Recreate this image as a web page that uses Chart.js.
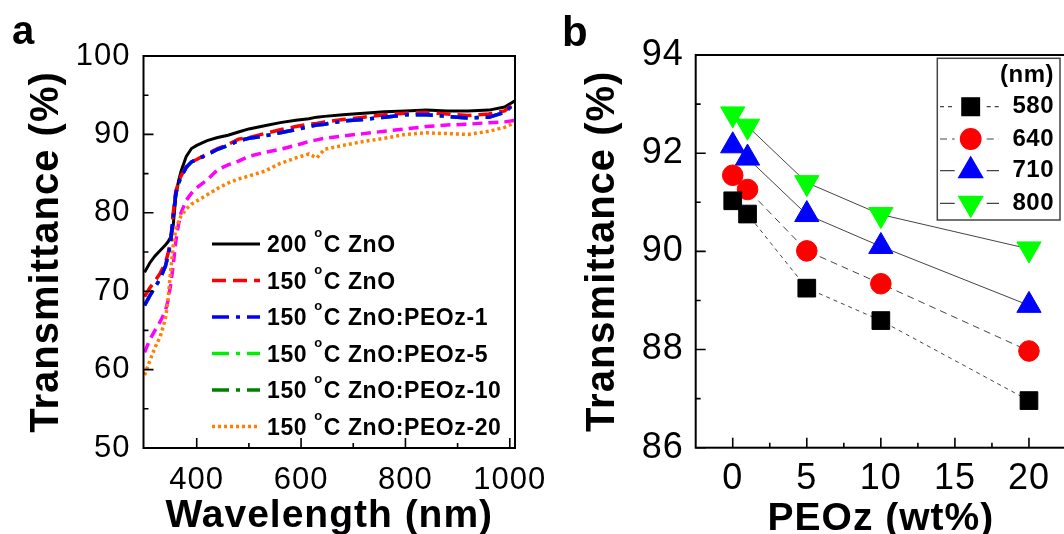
<!DOCTYPE html>
<html>
<head>
<meta charset="utf-8">
<script src="https://cdn.jsdelivr.net/npm/chart.js@4.4.1/dist/chart.umd.min.js"></script>
<style>
  html, body { margin: 0; padding: 0; background: #fff; overflow: hidden; width: 1064px; height: 534px; }
  #wrapA { position: absolute; left: 0; top: 0; }
  #wrapB { position: absolute; left: 540px; top: 0; }
</style>
</head>
<body>
<div id="wrapA"><canvas id="chartA" width="560" height="534"></canvas></div>
<div id="wrapB"><canvas id="chartB" width="530" height="534"></canvas></div>
<script>
// ---- panel a: transmittance spectra ----
const wavelength = [300, 310, 320, 330, 340, 345, 350, 355, 360, 365, 370, 380, 390, 400, 420, 440, 460, 480, 500,
  530, 560, 590, 615, 630, 645, 680, 720, 760, 800, 840, 880, 920, 960, 990, 1010];
const zno200 = [72.4, 73.6, 74.5, 75.2, 75.9, 76.3, 76.9, 78.4, 82.2, 84.0, 85.3, 87.2, 88.2, 88.6, 89.2, 89.6, 89.9, 90.3, 90.7,
  91.1, 91.5, 91.8, 92.0, 92.2, 92.3, 92.5, 92.7, 92.9, 93.0, 93.1, 93.0, 93.0, 93.1, 93.5, 94.3];
const zno150 = [69.3, 70.4, 71.3, 72.3, 73.6, 74.8, 76.3, 80.0, 82.8, 83.8, 84.7, 85.9, 86.5, 86.8, 87.5, 88.2, 88.7, 89.4, 89.6,
  90.1, 90.6, 91.0, 91.3, 91.4, 91.6, 91.9, 92.2, 92.5, 92.7, 92.8, 92.6, 92.4, 92.6, 93.0, 94.0];
const peoz1 = [68.2, 69.4, 70.5, 71.6, 73.2, 74.5, 76.2, 79.6, 82.5, 83.7, 84.6, 85.8, 86.5, 86.8, 87.4, 88.1, 88.6, 89.2, 89.5,
  89.8, 90.2, 90.6, 91.0, 91.2, 91.3, 91.7, 91.9, 92.2, 92.5, 92.5, 92.3, 92.1, 92.2, 92.8, 94.0];
const peoz5 = [68.2, 69.4, 70.5, 71.6, 73.2, 74.5, 76.2, 79.6, 82.5, 83.7, 84.6, 85.8, 86.5, 86.8, 87.4, 88.1, 88.6, 89.2, 89.5,
  89.8, 90.2, 90.6, 91.0, 91.2, 91.3, 91.7, 91.9, 92.2, 92.5, 92.5, 92.3, 92.1, 92.2, 92.8, 94.0];
const peoz10 = [68.2, 69.4, 70.5, 71.6, 73.2, 74.5, 76.2, 79.6, 82.5, 83.7, 84.6, 85.8, 86.5, 86.8, 87.4, 88.1, 88.6, 89.2, 89.5,
  89.8, 90.2, 90.6, 91.0, 91.2, 91.3, 91.7, 91.9, 92.2, 92.5, 92.5, 92.3, 92.1, 92.2, 92.8, 94.0];
const magentaCurve = [62.2, 63.8, 65.0, 66.1, 67.5, 68.8, 70.8, 73.3, 76.4, 78.5, 80.0, 81.6, 82.5, 83.2, 84.2, 85.5, 86.1, 86.6, 87.2,
  87.7, 88.1, 88.6, 89.1, 89.3, 89.5, 89.8, 90.1, 90.4, 90.7, 91.0, 91.2, 91.3, 91.5, 91.6, 91.8];
const peoz20 = [59.3, 61.1, 62.8, 64.2, 66.5, 68.9, 72.5, 75.8, 78.0, 78.8, 79.6, 80.5, 81.1, 81.5, 82.3, 83.1, 83.8, 84.3, 84.7,
  85.3, 86.3, 87.0, 87.5, 87.0, 88.1, 88.6, 89.1, 89.5, 90.0, 90.2, 90.1, 90.0, 90.4, 90.9, 91.5];
const legendA = ['200 °C ZnO', '150 °C ZnO', '150 °C ZnO:PEOz-1', '150 °C ZnO:PEOz-5', '150 °C ZnO:PEOz-10', '150 °C ZnO:PEOz-20'];
const wlTicks = [400, 600, 800, 1000];
const wlMinor = [500, 700, 900];
const tTicksA = [50, 60, 70, 80, 90, 100];
const tMinorA = [55, 65, 75, 85, 95];

// ---- panel b: transmittance vs PEOz content ----
const peozContent = [0, 1, 5, 10, 20];
const t580 = [91.03, 90.76, 89.25, 88.59, 86.96];
const t640 = [91.55, 91.26, 90.01, 89.34, 87.97];
const t710 = [92.15, 91.9, 90.75, 90.1, 88.9];
const t800 = [92.8, 92.55, 91.4, 90.75, 90.05];
const peozTicks = [0, 5, 10, 15, 20];
const peozMinor = [2.5, 7.5, 12.5, 17.5];
const tTicksB = [86, 88, 90, 92, 94];
const tMinorB = [87, 89, 91, 93];

const FONT = "'Liberation Sans', Arial, sans-serif";
Chart.defaults.font.family = FONT;
Chart.defaults.color = '#000';

function pts(xs, ys) {
    return xs.map((x, i) => ({ x: x, y: ys[i] }));
}

// the original figure's lettering is a little wider than Arial
const spacingPlugin = {
    id: 'spacing',
    beforeDraw(chart) { chart.ctx.letterSpacing = '1px'; },
    afterDraw(chart) { chart.ctx.letterSpacing = '0px'; }
};

// frame, inward ticks and panel letter
const framePlugin = {
    id: 'frame',
    afterDraw(chart, args, opts) {
        const { ctx, chartArea: a } = chart;
        const xs = chart.scales.x, ys = chart.scales.y;
        ctx.save();
        ctx.letterSpacing = '0px';
        ctx.strokeStyle = '#000';
        ctx.lineWidth = 1.6;
        ctx.beginPath();
        opts.xMajor.forEach(v => { const p = xs.getPixelForValue(v); ctx.moveTo(p, a.bottom); ctx.lineTo(p, a.bottom - 10); });
        opts.xMinor.forEach(v => { const p = xs.getPixelForValue(v); ctx.moveTo(p, a.bottom); ctx.lineTo(p, a.bottom - 5); });
        opts.yMajor.forEach(v => { const p = ys.getPixelForValue(v); ctx.moveTo(a.left, p); ctx.lineTo(a.left + 10, p); });
        opts.yMinor.forEach(v => { const p = ys.getPixelForValue(v); ctx.moveTo(a.left, p); ctx.lineTo(a.left + 5, p); });
        ctx.stroke();
        ctx.lineWidth = 2;
        ctx.strokeRect(a.left, a.top, a.right - a.left, a.bottom - a.top);
        ctx.fillStyle = '#000';
        ctx.font = 'bold ' + opts.labelSize + 'px ' + FONT;
        ctx.textBaseline = 'alphabetic';
        ctx.fillText(opts.label, opts.labelX, opts.labelY);
        ctx.restore();
    }
};

function drawDegreeText(ctx, text, x, y, size) {
    const parts = text.split('°');
    ctx.font = 'bold ' + size + 'px ' + FONT;
    ctx.fillText(parts[0], x, y);
    x += ctx.measureText(parts[0]).width;
    if (parts.length > 1) {
        ctx.font = 'bold ' + Math.round(size * 0.55) + 'px ' + FONT;
        ctx.fillText('o', x, y - size * 0.66);
        x += ctx.measureText('o').width + 1;
        ctx.font = 'bold ' + size + 'px ' + FONT;
        ctx.fillText(parts[1], x, y);
    }
}

// legend of panel a: line samples with their dash styles
const legendAPlugin = {
    id: 'legendA',
    afterDraw(chart, args, opts) {
        const ctx = chart.ctx;
        ctx.save();
        opts.entries.forEach((label, i) => {
            const ds = chart.data.datasets.find(d => d.label === label);
            const y = opts.rows[i];
            ctx.strokeStyle = ds.borderColor;
            ctx.lineWidth = ds.borderWidth;
            ctx.setLineDash(ds.borderDash || []);
            ctx.beginPath();
            ctx.moveTo(opts.x0, y);
            ctx.lineTo(opts.x1, y);
            ctx.stroke();
            ctx.setLineDash([]);
            ctx.fillStyle = '#000';
            ctx.textBaseline = 'alphabetic';
            ctx.letterSpacing = '0.6px';
            drawDegreeText(ctx, label, opts.textX, y + opts.size * 0.36, opts.size);
        });
        ctx.restore();
    }
};

// legend of panel b: boxed, marker + line, right aligned numbers
const legendBPlugin = {
    id: 'legendB',
    afterDraw(chart, args, opts) {
        const ctx = chart.ctx;
        const b = opts.box;
        ctx.save();
        ctx.letterSpacing = '0.5px';
        ctx.fillStyle = '#fff';
        ctx.fillRect(b[0], b[1], b[2] - b[0], b[3] - b[1]);
        ctx.strokeStyle = '#444';
        ctx.lineWidth = 1.5;
        ctx.strokeRect(b[0], b[1], b[2] - b[0], b[3] - b[1]);
        ctx.fillStyle = '#000';
        ctx.font = 'bold ' + opts.size + 'px ' + FONT;
        ctx.textAlign = 'right';
        ctx.textBaseline = 'middle';
        ctx.fillText(opts.title, opts.textX, opts.titleY);
        chart.data.datasets.forEach((ds, i) => {
            const y = opts.rows[i];
            ctx.strokeStyle = ds.borderColor;
            ctx.lineWidth = 1.2;
            ctx.setLineDash(ds.borderDash || []);
            ctx.beginPath();
            ctx.moveTo(opts.x0, y);
            ctx.lineTo(opts.mx - 16, y);
            ctx.moveTo(opts.mx + 16, y);
            ctx.lineTo(opts.x1, y);
            ctx.stroke();
            ctx.setLineDash([]);
            ctx.fillStyle = ds.pointBackgroundColor;
            ctx.strokeStyle = ds.pointBorderColor;
            Chart.helpers.drawPoint(ctx, {
                pointStyle: ds.pointStyle, rotation: ds.pointRotation || 0,
                radius: ds.pointRadius, borderWidth: 1
            }, opts.mx, y);
            ctx.fillStyle = '#000';
            ctx.fillText(ds.label, opts.textX, y);
        });
        ctx.restore();
    }
};

function spectrum(label, values, color, dash, width, order) {
    return {
        label: label, data: pts(wavelength, values), borderColor: color, borderWidth: width,
        borderDash: dash, pointRadius: 0, tension: 0, fill: false, order: order
    };
}

new Chart(document.getElementById('chartA'), {
    type: 'line',
    data: {
        datasets: [
            spectrum(legendA[0], zno200, '#000000', [], 3, 4),
            spectrum(legendA[1], zno150, '#ff0000', [14, 7], 3.5, 1),
            spectrum(legendA[2], peoz1, '#0000ff', [17, 7, 4, 7], 3.5, 0),
            spectrum(legendA[3], peoz5, '#00ee00', [17, 7, 4, 7], 3.5, 5),
            spectrum(legendA[4], peoz10, '#008000', [17, 7, 4, 7], 3.5, 6),
            spectrum('', magentaCurve, '#ff00ff', [10, 6], 3.5, 3),
            spectrum(legendA[5], peoz20, '#ff8000', [3, 3], 3.5, 2)
        ]
    },
    options: {
        responsive: false,
        animation: false,
        layout: { autoPadding: false, padding: { left: 0, top: 56, right: 45, bottom: 0 } },
        plugins: {
            legend: { display: false },
            tooltip: { enabled: false },
            frame: { xMajor: wlTicks, xMinor: wlMinor, yMajor: tTicksA, yMinor: tMinorA,
                label: 'a', labelSize: 40, labelX: 12, labelY: 44 },
            legendA: { entries: legendA, rows: [244, 280.5, 317, 353.5, 390, 426.5], x0: 212, x1: 260, textX: 267, size: 23 }
        },
        scales: {
            x: {
                type: 'linear', min: 298, max: 1010,
                afterFit: s => { s.height = 86; },
                afterBuildTicks: s => { s.ticks = wlTicks.map(v => ({ value: v })); },
                grid: { display: false, drawTicks: false }, border: { display: false },
                ticks: { font: { size: 31 }, padding: 14, autoSkip: false, maxRotation: 0, callback: v => String(v) },
                title: { display: true, text: 'Wavelength (nm)', font: { size: 39, weight: 'bold', lineHeight: 0.92 }, padding: 0 }
            },
            y: {
                min: 50, max: 100,
                afterFit: s => { s.width = 143.5; },
                afterBuildTicks: s => { s.ticks = tTicksA.map(v => ({ value: v })); },
                grid: { display: false, drawTicks: false }, border: { display: false },
                ticks: { font: { size: 31 }, padding: 13, callback: v => String(v) },
                title: { display: true, text: 'Transmittance (%)', font: { size: 40, weight: 'bold' }, padding: { top: 23 } }
            }
        }
    },
    plugins: [spacingPlugin, framePlugin, legendAPlugin]
});

function series(label, values, color, style, radius, dash, rotation) {
    return {
        label: label, data: pts(peozContent, values), borderColor: '#444', borderWidth: 1, borderDash: dash,
        pointStyle: style, pointRadius: radius, pointRotation: rotation, pointBackgroundColor: color,
        pointBorderColor: color, pointBorderWidth: 1, tension: 0, fill: false
    };
}

new Chart(document.getElementById('chartB'), {
    type: 'line',
    data: {
        datasets: [
            series('580', t580, '#000000', 'rect', 12.5, [4, 4], 0),
            series('640', t640, '#ff0000', 'circle', 10.3, [7, 5], 0),
            series('710', t710, '#0000ff', 'triangle', 14, [], 0),
            series('800', t800, '#00ff00', 'triangle', 14, [], 180)
        ]
    },
    options: {
        responsive: false,
        animation: false,
        layout: { autoPadding: false, padding: { left: 0, top: 55, right: 4, bottom: 0 } },
        plugins: {
            legend: { display: false },
            tooltip: { enabled: false },
            frame: { xMajor: peozTicks, xMinor: peozMinor, yMajor: tTicksB, yMinor: tMinorB,
                label: 'b', labelSize: 42, labelX: 22, labelY: 46 },
            legendB: { box: [397.3, 58.3, 520, 220], title: '(nm)', titleY: 75, rows: [106.7, 139, 170.7, 203.3],
                x0: 400, x1: 459, mx: 430.7, textX: 514, size: 24 }
        },
        scales: {
            x: {
                type: 'linear', min: -2.5, max: 22.5,
                afterFit: s => { s.height = 86.3; },
                afterBuildTicks: s => { s.ticks = peozTicks.map(v => ({ value: v })); },
                grid: { display: false, drawTicks: false }, border: { display: false },
                ticks: { font: { size: 36 }, padding: 10, autoSkip: false, maxRotation: 0, callback: v => String(v) },
                title: { display: true, text: 'PEOz (wt%)', font: { size: 39, weight: 'bold', lineHeight: 0.77 }, padding: 0 }
            },
            y: {
                min: 86, max: 94,
                afterFit: s => { s.width = 155.7; },
                afterBuildTicks: s => { s.ticks = tTicksB.map(v => ({ value: v })); },
                grid: { display: false, drawTicks: false }, border: { display: false },
                ticks: { font: { size: 36 }, padding: 12, callback: v => String(v) },
                title: { display: true, text: 'Transmittance (%)', font: { size: 40, weight: 'bold' }, padding: { top: 39 } }
            }
        }
    },
    plugins: [spacingPlugin, framePlugin, legendBPlugin]
});
</script>
</body>
</html>
